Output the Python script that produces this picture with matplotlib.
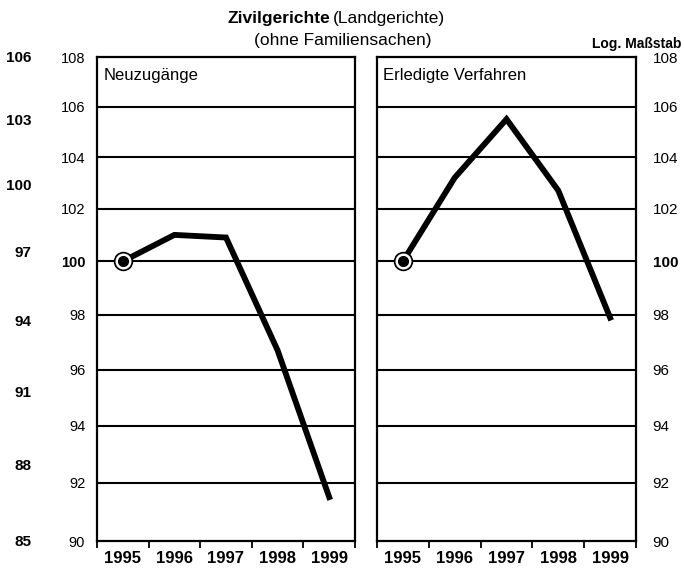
import matplotlib
matplotlib.use("Agg")
import matplotlib.pyplot as plt
from matplotlib.ticker import FixedLocator, NullFormatter, NullLocator

plt.rcParams["font.family"] = ["Liberation Sans", "DejaVu Sans"]

years = ["1995", "1996", "1997", "1998", "1999"]
neuzugaenge = [100.0, 101.0, 100.9, 96.7, 91.5]
erledigte = [100.0, 103.2, 105.5, 102.7, 97.9]

panel_ticks = [90, 92, 94, 96, 98, 100, 102, 104, 106, 108]
outer_ticks = [85, 88, 91, 94, 97, 100, 103, 106]

W, H = 684, 579
fig = plt.figure(figsize=(W / 100, H / 100), dpi=100)


def px_rect(x0, y0, x1, y1):
    return [x0 / W, 1 - y1 / H, (x1 - x0) / W, (y1 - y0) / H]


def draw_panel(rect, values, label, side):
    ax = fig.add_axes(rect)
    ax.set_yscale("log")
    ax.set_ylim(90, 108)
    ax.set_xlim(0, 5)
    ax.yaxis.set_major_locator(FixedLocator(panel_ticks))
    ax.yaxis.set_minor_locator(NullLocator())
    ax.yaxis.set_minor_formatter(NullFormatter())
    ax.set_yticklabels([str(t) for t in panel_ticks])
    for g in panel_ticks[1:-1]:
        ax.axhline(g, color="black", lw=1.5, zorder=1)

    # year ticks on boundaries, labels centered in between
    ax.set_xticks(range(6))
    ax.set_xticklabels([])
    ax.set_xticks([i + 0.5 for i in range(5)], minor=True)
    ax.set_xticklabels(years, minor=True, fontsize=12, fontweight="bold")
    ax.tick_params(axis="x", which="major", direction="out", length=5, width=1.3)
    ax.tick_params(axis="x", which="minor", length=0, pad=7)

    if side == "left":
        ax.tick_params(axis="y", which="major", length=0, pad=8.5,
                       left=True, labelleft=True, right=False, labelright=False)
    else:
        ax.tick_params(axis="y", which="major", length=0, pad=12,
                       left=False, labelleft=False, right=True, labelright=True)

    for tick, val in zip(ax.yaxis.get_major_ticks(), panel_ticks):
        for lab in (tick.label1, tick.label2):
            lab.set_fontsize(10.5 if side == "left" else 11)
            if val == 100:
                lab.set_fontweight("bold")

    for s in ax.spines.values():
        s.set_linewidth(1.6)

    xs = [i + 0.5 for i in range(len(values))]
    ax.plot(xs, values, color="black", lw=4.2, solid_joinstyle="miter", zorder=3)
    ax.plot(xs[0], values[0], "o", ms=13, mfc="black", mec="black", zorder=4)
    ax.plot(xs[0], values[0], "o", ms=10.5, mfc="white", mec="white", zorder=5)
    ax.plot(xs[0], values[0], "o", ms=7, mfc="black", mec="black", zorder=6)

    ax.text(0.025, 0.978, label, transform=ax.transAxes, fontsize=12,
            ha="left", va="top")
    return ax


ax_left = draw_panel(px_rect(97, 57, 355, 541), neuzugaenge, "Neuzugänge", "left")
ax_right = draw_panel(px_rect(377, 57, 636, 541), erledigte, "Erledigte Verfahren", "right")

# outer scale at the far left
ax_outer = fig.add_axes(px_rect(97, 57, 355, 541), frameon=False)
ax_outer.patch.set_visible(False)
ax_outer.set_yscale("log")
ax_outer.set_ylim(85, 106)
ax_outer.yaxis.set_major_locator(FixedLocator(outer_ticks))
ax_outer.yaxis.set_minor_locator(NullLocator())
ax_outer.yaxis.set_minor_formatter(NullFormatter())
ax_outer.set_yticklabels([str(t) for t in outer_ticks], fontsize=11, fontweight="bold")
ax_outer.tick_params(axis="y", length=0, pad=47)
ax_outer.set_xticks([])

# titles
fig.text(330 / W, 1 - 18 / H, "Zivilgerichte", fontsize=12.5, fontweight="bold",
         ha="right", va="center")
fig.text(333 / W, 1 - 18 / H, "(Landgerichte)", fontsize=12.5, ha="left", va="center")
fig.text(343 / W, 1 - 40 / H, "(ohne Familiensachen)", fontsize=12.5, ha="center", va="center")
fig.text(681 / W, 1 - 44 / H, "Log. Maßstab", fontsize=10, fontweight="bold",
         ha="right", va="center")

fig.savefig("out.png", dpi=100)
